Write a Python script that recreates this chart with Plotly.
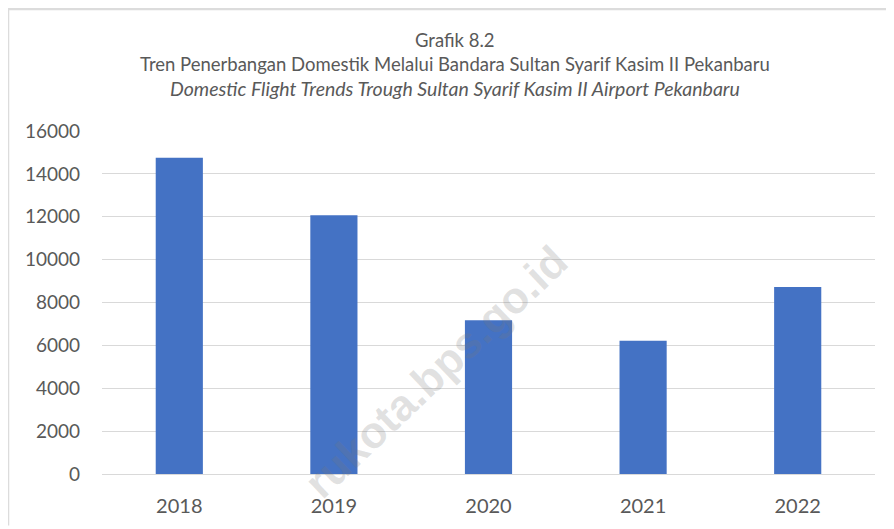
import plotly.graph_objects as go

years = ["2018", "2019", "2020", "2021", "2022"]
flights = [14750, 12070, 7170, 6210, 8725]
y_ticks = [0, 2000, 4000, 6000, 8000, 10000, 12000, 14000, 16000]

title_lines = [
    "Grafik 8.2",
    "Tren Penerbangan Domestik Melalui Bandara Sultan Syarif Kasim II Pekanbaru",
    "<i>Domestic Flight Trends Trough Sultan Syarif Kasim II Airport Pekanbaru</i>",
]
watermark = "rukota.bps.go.id"

FONT = "Lato, Open Sans, sans-serif"
TXT = "#595959"

W, H = 886, 521
L, R, T, B = 94, 19, 123, 52
PW, PH = W - L - R, H - T - B

fig = go.Figure()
fig.add_trace(go.Bar(
    x=years, y=flights,
    marker=dict(color="#4472C4", line=dict(width=0)),
    width=0.305,
    hoverinfo="x+y",
))

fig.update_layout(
    width=W, height=H,
    paper_bgcolor="white", plot_bgcolor="white",
    margin=dict(l=L, r=R, t=T, b=B),
    showlegend=False,
    font=dict(family=FONT, color=TXT, size=19),
    xaxis=dict(
        type="category", showgrid=False, zeroline=False,
        showline=False, ticks="", ticklabelstandoff=18,
        tickfont=dict(size=20, color=TXT),
    ),
    yaxis=dict(
        range=[0, 16000], tickvals=y_ticks,
        ticktext=[str(v) for v in y_ticks],
        showgrid=True, gridcolor="#d9d9d9", gridwidth=1,
        zeroline=True, zerolinecolor="#d9d9d9", zerolinewidth=1,
        showline=False, ticks="", ticklabelstandoff=21,
        tickfont=dict(size=19, color=TXT),
    ),
)

title_cx = (447 - L) / PW
ys = [32, 56, 80]
sizes = [18.5, 18.5, 19.5]
for txt, yy, sz in zip(title_lines, ys, sizes):
    fig.add_annotation(
        text=txt, xref="paper", yref="paper",
        x=title_cx, y=1, xanchor="center", yanchor="middle",
        showarrow=False, yshift=T - yy,
        font=dict(family=FONT, size=sz, color=TXT),
    )

# chart frame (left and top edges)
fig.add_shape(type="line", xref="paper", yref="paper",
              x0=-L / PW, x1=-L / PW, y0=-B / PH, y1=1 + T / PH,
              line=dict(color="#dcdcdc", width=2.5))
fig.add_shape(type="line", xref="paper", yref="paper",
              x0=-L / PW, x1=1 + R / PW, y0=1 + T / PH, y1=1 + T / PH,
              line=dict(color="#dcdcdc", width=2.5))

# watermark (visible part)
fig.add_annotation(
    text="<b>" + watermark + "</b>", xref="paper", yref="paper",
    x=(428 - L) / PW, y=(T + PH - 366) / PH, showarrow=False,
    xanchor="center", yanchor="middle",
    textangle=-43.5,
    font=dict(family="Liberation Sans, Arial, sans-serif", size=44,
              color="rgba(120,120,120,0.22)"),
)

fig.write_html("out.html")
